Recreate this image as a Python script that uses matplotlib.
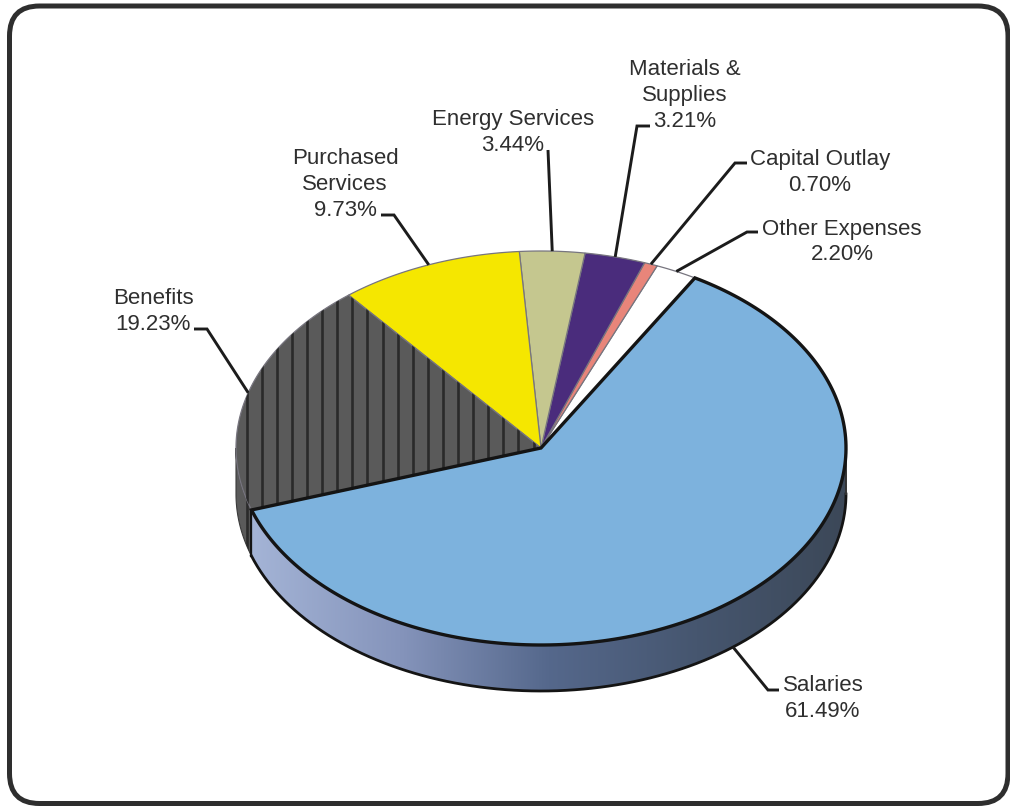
import matplotlib

matplotlib.use("Agg")
import matplotlib.pyplot as plt
import numpy as np
from matplotlib.colors import LinearSegmentedColormap
from matplotlib.patches import FancyBboxPatch, Polygon

plt.rcParams["font.family"] = ["Liberation Sans", "DejaVu Sans"]

# Budget shares, listed clockwise starting from the largest slice
categories = ["Salaries", "Benefits", "Purchased\nServices", "Energy Services",
              "Materials &\nSupplies", "Capital Outlay", "Other Expenses"]
shares = [61.49, 19.23, 9.73, 3.44, 3.21, 0.70, 2.20]
colors = ["#7db2dd", "#5a5a5a", "#f5e700", "#c5c78f", "#4a2c7c", "#e8857a", "#ffffff"]

# Pie geometry in pixels
CX, CY = 541, 448
RX, RY = 305, 197
DEPTH = 46
START_ANGLE = 59.7

# Label centre and the elbow of each leader line (two points: elbow, label end)
label_pos = [(823, 698.5), (153, 311.5), (345, 184.5), (513, 132.5), (685, 95.5), (820, 172.5), (842, 242)]
elbows = [((768, 690), (779, 690)), ((207, 329), (194, 329)), ((394, 215), (381, 215)),
          ((548, 150), (548, 150)), ((637, 126), (650, 126)), ((735, 163), (747, 163)),
          ((747, 232), (758, 232))]


def rim(angle_deg, drop=0):
    t = np.radians(angle_deg)
    return CX + RX * np.cos(t), CY - RY * np.sin(t) + drop


def arc(a0, a1, drop=0):
    angles = np.linspace(a0, a1, 200)
    xs, ys = rim(angles, drop)
    return np.column_stack([xs, ys])


def add_hatch(ax, clip_patch, x0, x1):
    # vertical stripes used for the Benefits slice
    for x in np.arange(x0, x1, 15.1):
        line, = ax.plot([x, x], [200, 620], color="#2a2a2a", lw=1.9, zorder=clip_patch.get_zorder() + 0.1)
        line.set_clip_path(clip_patch)


fig = plt.figure(figsize=(10.10, 8.06), dpi=100)
ax = fig.add_axes([0, 0, 1, 1])
ax.set_xlim(0, 1010)
ax.set_ylim(806, 0)
ax.axis("off")

frame = FancyBboxPatch((9.5, 6), 998.5, 797.5, boxstyle="round,pad=0,rounding_size=30",
                       fc="white", ec="#2e2e2e", lw=3.6, zorder=0)
ax.add_patch(frame)

# slice boundaries: clockwise means decreasing angle
sweep = np.array(shares) / sum(shares) * 360
ends = START_ANGLE - np.cumsum(sweep)
starts = np.concatenate([[START_ANGLE], ends[:-1]])
mids = (starts + ends) / 2

# side wall of the Salaries slice, shaded light to dark from left to right
sal_end = ends[0]
wall_pts = np.vstack([arc(sal_end, 0), arc(0, sal_end, DEPTH)])
wall = Polygon(wall_pts, closed=True, fc="none", ec="none", zorder=2)
ax.add_patch(wall)
wall_cmap = LinearSegmentedColormap.from_list(
    "wall", ["#a4b4d6", "#8594bb", "#55688c", "#46566f", "#3c4858"])
img = ax.imshow(np.linspace(0, 1, 256).reshape(1, -1), cmap=wall_cmap, aspect="auto",
                extent=[rim(sal_end)[0], CX + RX, 806, 0], zorder=2)
img.set_clip_path(wall)
ax.set_xlim(0, 1010)
ax.set_ylim(806, 0)
ax.plot(*arc(sal_end, 0, DEPTH).T, color="#141414", lw=2.0, zorder=5)
ax.plot([CX + RX, CX + RX], [CY, CY + DEPTH], color="#333333", lw=1.4, zorder=5)
x_s, y_s = rim(sal_end)
ax.plot([x_s, x_s], [y_s, y_s + DEPTH], color="#141414", lw=1.6, zorder=5)

# side wall of the Benefits slice
ben_wall = Polygon(np.vstack([arc(180, 360 + sal_end), arc(360 + sal_end, 180, DEPTH)]),
                   closed=True, fc=colors[1], ec="#3a3a3a", lw=0.8, zorder=2)
ax.add_patch(ben_wall)
add_hatch(ax, ben_wall, 246.7 - 15.1 * 2, 260)

# top faces, Salaries last so its heavy outline stays on top
for i in [6, 5, 4, 3, 2, 1, 0]:
    pts = np.vstack([[(CX, CY)], arc(starts[i], ends[i])])
    heavy = i == 0
    poly = Polygon(pts, closed=True, fc=colors[i], ec="#141414" if heavy else "#77757f",
                   lw=2.4 if heavy else 0.9, joinstyle="miter", zorder=6 if heavy else 3)
    ax.add_patch(poly)
    if categories[i] == "Benefits":
        add_hatch(ax, poly, 246.7 - 15.1, 541)

# labels and leader lines
for i, name in enumerate(categories):
    anchor = rim(mids[i], DEPTH if i == 0 else 0)
    (ex, ey), (lx, ly) = elbows[i]
    ax.plot([anchor[0], ex, lx], [anchor[1], ey, ly], color="#1c1c1c", lw=2.1,
            solid_joinstyle="miter", solid_capstyle="butt", zorder=7)
    ax.text(label_pos[i][0], label_pos[i][1], f"{name}\n{shares[i]:.2f}%", ha="center", va="center",
            fontsize=16, color="#2f2f2f", linespacing=1.29, zorder=8)

fig.savefig("out.png", dpi=100)
